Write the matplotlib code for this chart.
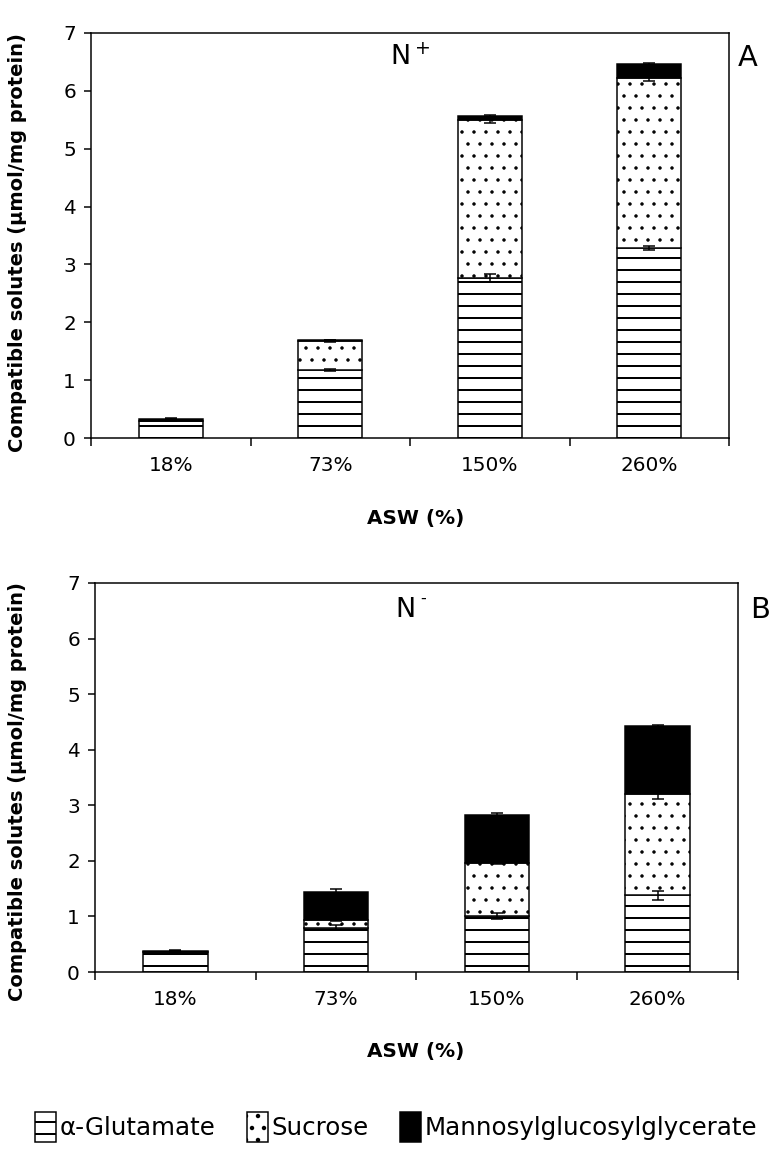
import matplotlib as mpl
import matplotlib.pyplot as plt
import numpy as np
from matplotlib.patches import Patch

mpl.use("Agg")
plt.rcParams["font.family"] = ["DejaVu Sans"]
plt.rcParams["hatch.linewidth"] = 2.0
plt.rcParams["hatch.color"] = "black"

categories = ["18%", "73%", "150%", "260%"]

# panel A (N+)
glut_a = [0.30, 1.18, 2.77, 3.28]
sucr_a = [0.00, 0.50, 2.72, 2.94]
mgg_a = [0.03, 0.01, 0.08, 0.24]
glut_err_a = [0.01, 0.02, 0.07, 0.03]
sucr_err_a = [0.00, 0.02, 0.05, 0.05]
mgg_err_a = [0.01, 0.01, 0.02, 0.03]

# panel B (N-)
glut_b = [0.36, 0.80, 1.01, 1.38]
sucr_b = [0.00, 0.14, 0.96, 1.82]
mgg_b = [0.02, 0.50, 0.86, 1.22]
glut_err_b = [0.02, 0.05, 0.06, 0.08]
sucr_err_b = [0.00, 0.02, 0.02, 0.08]
mgg_err_b = [0.01, 0.06, 0.04, 0.02]

DPI = 72
fig = plt.figure(figsize=(774 / DPI, 1149 / DPI), dpi=DPI)

ax_a = fig.add_axes([91 / 774, 1 - 438 / 1149, 638 / 774, 405 / 1149])
ax_b = fig.add_axes([95 / 774, 1 - 972 / 1149, 643 / 774, 389 / 1149])


def draw_panel(ax, glut, sucr, mgg, eg, es, em):
    x = np.arange(len(categories))
    glut = np.array(glut)
    sucr = np.array(sucr)
    mgg = np.array(mgg)
    w = 0.40
    ax.bar(x, glut, w, color="white", edgecolor="black", hatch="-", linewidth=1.5, zorder=2)
    with plt.rc_context({"hatch.linewidth": 1.0}):
        ax.bar(x, sucr, w, bottom=glut, color="white", edgecolor="black", hatch=".",
               linewidth=1.5, zorder=2)
    ax.bar(x, mgg, w, bottom=glut + sucr, color="black", edgecolor="black",
           linewidth=1.5, zorder=2)
    kw = dict(fmt="none", ecolor="black", elinewidth=1.5, capsize=6, capthick=1.5, zorder=3)
    ax.errorbar(x, glut, yerr=eg, **kw)
    ax.errorbar(x, glut + sucr, yerr=es, **kw)
    ax.errorbar(x, glut + sucr + mgg, yerr=em, **kw)

    ax.set_xlim(-0.5, 3.5)
    ax.set_ylim(0, 7)
    ax.set_yticks(range(8))
    ax.set_xticks(x)
    ax.set_xticklabels(categories, fontsize=20)
    ax.set_xticks(np.arange(-0.5, 4.0, 1.0), minor=True)
    ax.tick_params(axis="x", which="major", length=0, pad=18)
    ax.tick_params(axis="x", which="minor", length=8, width=1.5, direction="out")
    ax.tick_params(axis="y", length=7, width=1.5, direction="out", labelsize=20, pad=8)
    for s in ax.spines.values():
        s.set_linewidth(1.5)


draw_panel(ax_a, glut_a, sucr_a, mgg_a, glut_err_a, sucr_err_a, mgg_err_a)
draw_panel(ax_b, glut_b, sucr_b, mgg_b, glut_err_b, sucr_err_b, mgg_err_b)

ylab = "Compatible solutes (µmol/mg protein)"
fig.text(18 / 774, 1 - 243 / 1149, ylab, rotation=90, ha="center", va="center",
         fontsize=19.5, fontweight="bold")
fig.text(18 / 774, 1 - 792 / 1149, ylab, rotation=90, ha="center", va="center",
         fontsize=19.5, fontweight="bold")
fig.text(416 / 774, 1 - 519 / 1149, "ASW (%)", ha="center", va="center",
         fontsize=20, fontweight="bold")
fig.text(416 / 774, 1 - 1051 / 1149, "ASW (%)", ha="center", va="center",
         fontsize=20, fontweight="bold")

fig.text(410 / 774, 1 - 58 / 1149, r"N$^+$", ha="center", va="center", fontsize=27)
fig.text(405 / 774, 1 - 610 / 1149, "N", ha="center", va="center", fontsize=27)
fig.text(423 / 774, 1 - 598 / 1149, "-", ha="center", va="center", fontsize=16)
fig.text(748 / 774, 1 - 58 / 1149, "A", ha="center", va="center", fontsize=29)
fig.text(760 / 774, 1 - 610 / 1149, "B", ha="center", va="center", fontsize=29)

with plt.rc_context({"hatch.linewidth": 1.0}):
    sucr_patch = Patch(facecolor="white", edgecolor="black", hatch=".", linewidth=1.5,
                       label="Sucrose")
handles = [
    Patch(facecolor="white", edgecolor="black", hatch="-", linewidth=1.5, label="α-Glutamate"),
    sucr_patch,
    Patch(facecolor="black", edgecolor="black", linewidth=1.5, label="Mannosylglucosylglycerate"),
]
fig.legend(handles=handles, loc="center", bbox_to_anchor=(396 / 774, 1 - 1127 / 1149),
           ncol=3, frameon=False, fontsize=24.5, handlelength=0.85, handleheight=1.5,
           handletextpad=0.15, columnspacing=1.3)

fig.savefig("out.png", dpi=DPI)
